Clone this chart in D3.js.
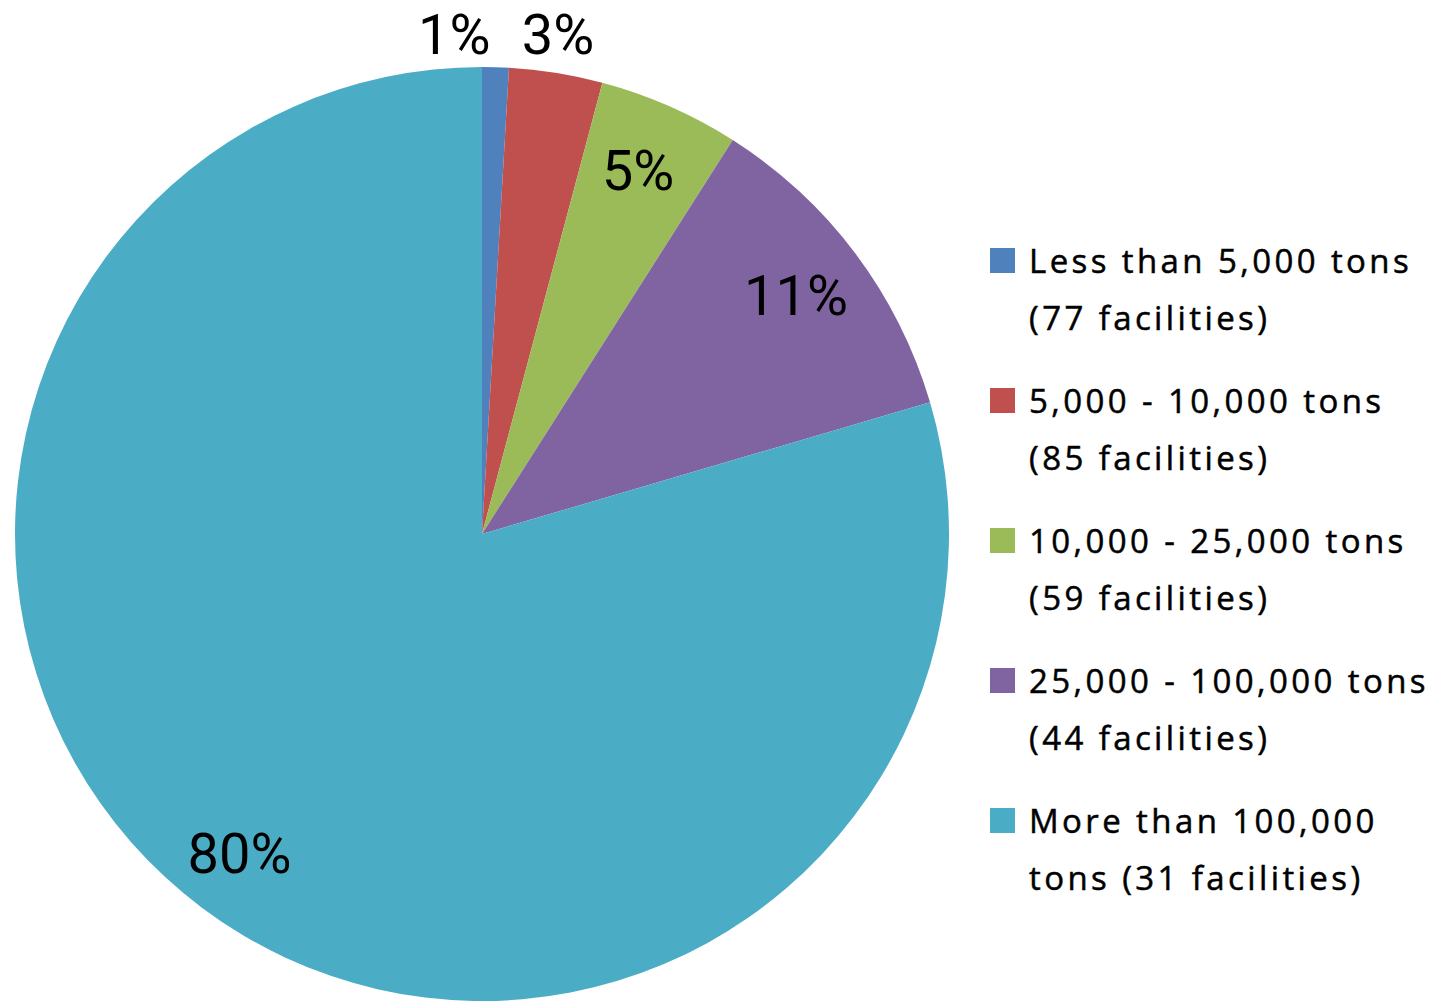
<!DOCTYPE html>
<html>
<head>
<meta charset="utf-8">
<script src="https://cdn.jsdelivr.net/npm/d3@7"></script>
<style>
  html, body { margin: 0; padding: 0; background: #fff; }
  svg { display: block; }
</style>
</head>
<body>
<svg id="chart" width="1449" height="1002"></svg>
<script>
// ---- data ----
const categories = [
  "Less than 5,000 tons",
  "5,000 - 10,000 tons",
  "10,000 - 25,000 tons",
  "25,000 - 100,000 tons",
  "More than 100,000 tons"
];
const legendLines = [
  ["Less than 5,000 tons", "(77 facilities)"],
  ["5,000 - 10,000 tons", "(85 facilities)"],
  ["10,000 - 25,000 tons", "(59 facilities)"],
  ["25,000 - 100,000 tons", "(44 facilities)"],
  ["More than 100,000", "tons (31 facilities)"]
];
const shares = [0.92, 3.23, 4.87, 11.43, 79.55];
const percentLabels = ["1%", "3%", "5%", "11%", "80%"];
const colors = ["#4F81BD", "#C0504D", "#9BBB59", "#8064A2", "#4BACC6"];

// ---- layout ----
const svg = d3.select("#chart");
const cx = 482, cy = 534, R = 467;

const data = categories.map((c, i) => ({ cat: c, value: shares[i], label: percentLabels[i], color: colors[i], i }));

const pie = d3.pie().value(d => d.value).sort(null);
const arcs = pie(data);
const arc = d3.arc().innerRadius(0).outerRadius(R);
const labelArc = d3.arc().innerRadius(398).outerRadius(398);
const outerArc = d3.arc().innerRadius(505).outerRadius(505);

const g = svg.append("g").attr("transform", `translate(${cx},${cy})`);

g.selectAll("path.slice")
  .data(arcs)
  .join("path")
  .attr("class", "slice")
  .attr("d", arc)
  .attr("fill", d => d.data.color);

// labels
g.selectAll("text.pct")
  .data(arcs)
  .join("text")
  .attr("class", "pct")
  .attr("font-family", "Roboto, 'Open Sans', sans-serif")
  .attr("font-size", 56)
  .attr("fill", "#000")
  .each(function(d) {
    const small = d.data.value < 4;
    const p = small ? outerArc.centroid(d) : labelArc.centroid(d);
    const first = small && d.index === 0;
    d3.select(this)
      .attr("x", p[0] + (first ? -6 : -4))
      .attr("y", small ? -R - 13 : p[1] + 20)
      .attr("text-anchor", first ? "end" : "middle")
      .text(d.data.label);
  });

// legend
const legend = svg.append("g").attr("transform", "translate(990,273)");
const rowH = 140, lineH = 57;
const rows = legend.selectAll("g.row")
  .data(data)
  .join("g")
  .attr("class", "row")
  .attr("transform", (d, i) => `translate(0,${i * rowH})`);

rows.append("rect")
  .attr("x", 0).attr("y", -25)
  .attr("width", 25).attr("height", 25)
  .attr("fill", d => d.color);

rows.append("text")
  .attr("x", 39)
  .attr("y", 0)
  .attr("font-family", "'Open Sans', sans-serif")
  .attr("font-size", 33)
  .attr("letter-spacing", 3.4)
  .attr("fill", "#000")
  .attr("stroke", "#000")
  .attr("stroke-width", 0.5)
  .selectAll("tspan")
  .data(d => legendLines[d.i])
  .join("tspan")
  .attr("x", 39)
  .attr("dy", (t, j) => j === 0 ? 0 : lineH)
  .text(t => t);
</script>
</body>
</html>
